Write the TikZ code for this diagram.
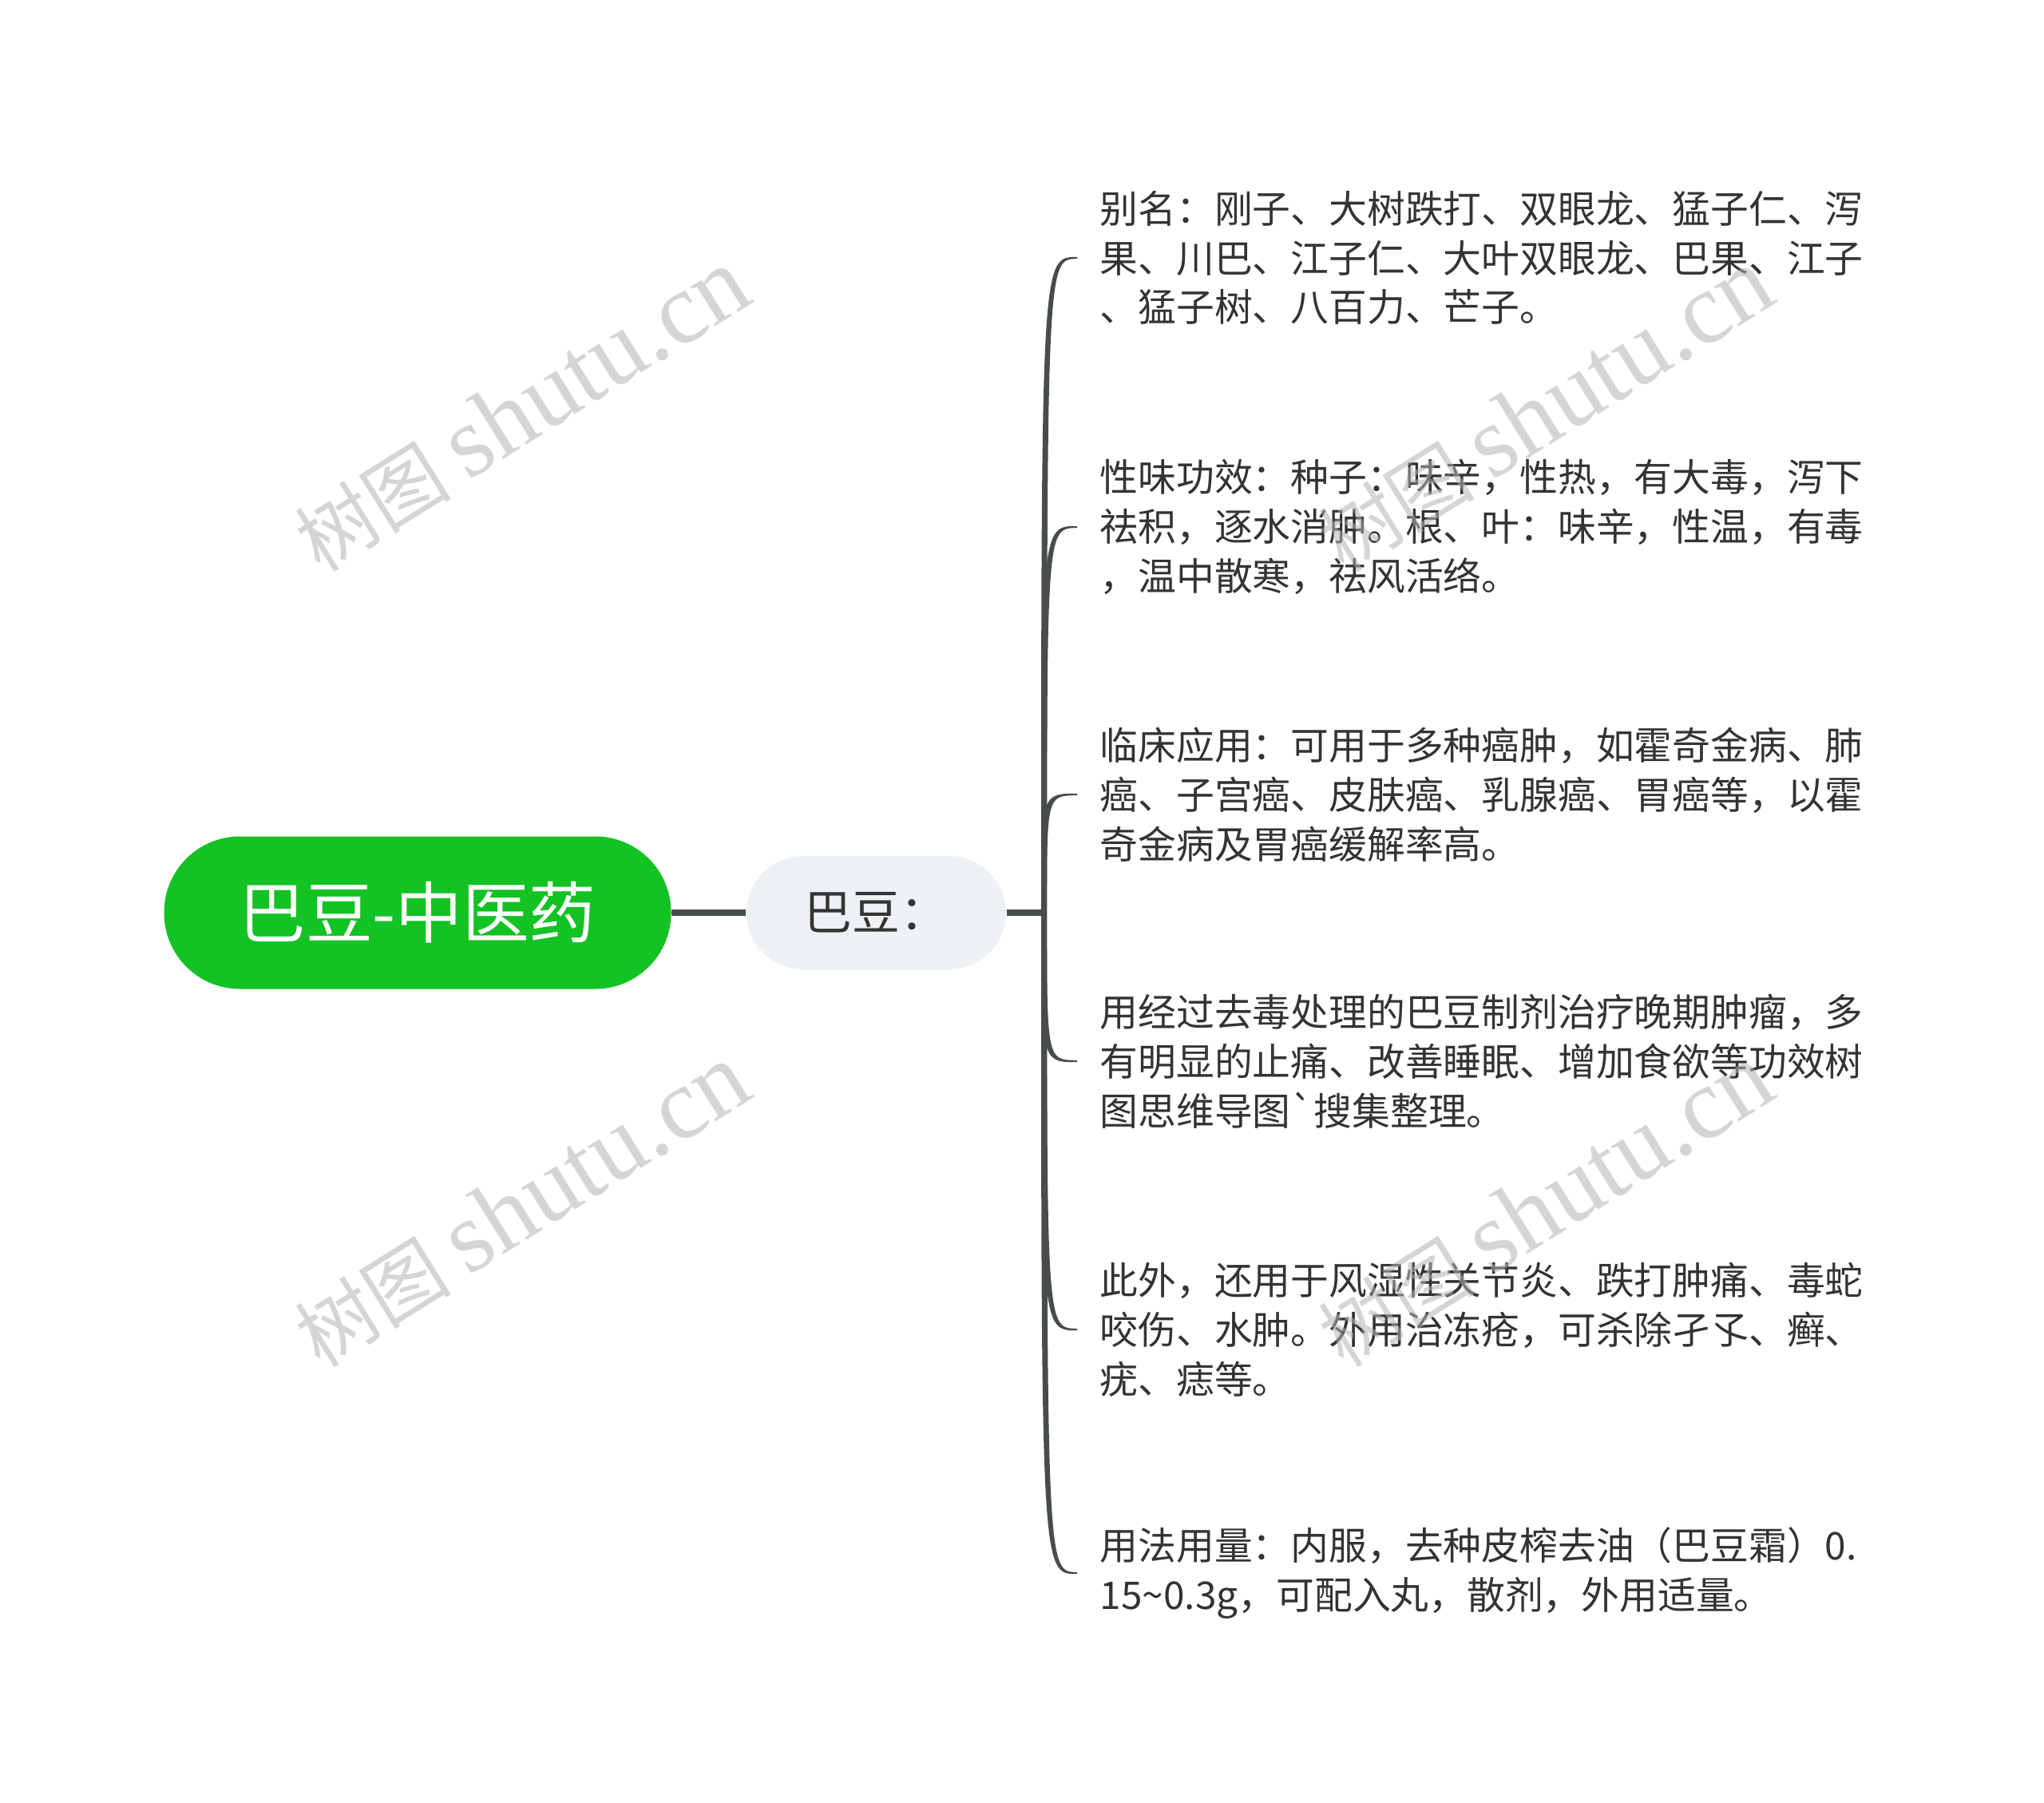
\documentclass[tikz,border=0pt]{standalone}
\usepackage{fontspec}
\setmainfont{Noto Sans CJK SC}
\newfontfamily\wmserif{Liberation Serif}
\usepackage{tikz}
\usetikzlibrary{positioning, calc}
\usepackage{xcolor}
\definecolor{rootgreen}{HTML}{13C223}
\definecolor{subgray}{HTML}{EEF1F4}
\definecolor{linegray}{HTML}{474D48}
\definecolor{leaftext}{HTML}{333333}

\tikzset{
    rootbox/.style={fill=rootgreen, text=white, rounded corners=0.95cm,
        minimum width=6.35cm, minimum height=1.91cm,
        font=\fontsize{23.8pt}{26pt}\selectfont},
    subbox/.style={fill=subgray, text=leaftext, rounded corners=0.71cm,
        minimum width=3.25cm, minimum height=1.42cm,
        font=\fontsize{17pt}{19pt}\selectfont},
    leaf/.style={inner sep=0pt, anchor=west, align=left, text=leaftext,
        font=\fontsize{13.6pt}{17.6pt}\selectfont},
    wmark/.style={rotate=32, text=black!30, text opacity=0.55,
        font=\fontsize{28pt}{30pt}\selectfont}
}

\begin{document}
\begin{tikzpicture}
    \useasboundingbox (0,0) rectangle (25.6,-22.58);
    % main nodes
        \node[rootbox] (root) at (5.23,-11.43) {巴豆-中医药};
        \node[subbox,
            right=0.93cm of root
            ] (sub) {巴豆：};
        \coordinate[right=0.47cm of sub] (hub);
    % branch ends
        \coordinate (e1) at (13.49,-3.23);
        \coordinate (e2) at (13.49,-6.60);
        \coordinate (e3) at (13.49,-9.95);
        \coordinate (e4) at (13.49,-13.29);
        \coordinate (e5) at (13.49,-16.65);
        \coordinate (e6) at (13.49,-19.70);
    % the leaves
        \node[leaf,
            right=0.28cm of e1
            ] (l1) {别名：刚子、大树跌打、双眼龙、猛子仁、泻\\果、川巴、江子仁、大叶双眼龙、巴果、江子\\、猛子树、八百力、芒子。};
        \node[leaf,
            right=0.28cm of e2
            ] (l2) {性味功效：种子：味辛，性热，有大毒，泻下\\祛积，逐水消肿。根、叶：味辛，性温，有毒\\，温中散寒，祛风活络。};
        \node[leaf,
            right=0.28cm of e3
            ] (l3) {临床应用：可用于多种癌肿，如霍奇金病、肺\\癌、子宫癌、皮肤癌、乳腺癌、胃癌等，以霍\\奇金病及胃癌缓解率高。};
        \node[leaf,
            right=0.28cm of e4
            ] (l4) {用经过去毒处理的巴豆制剂治疗晚期肿瘤，多\\有明显的止痛、改善睡眠、增加食欲等功效树\\图思维导图\textasciigrave 搜集整理。};
        \node[leaf,
            right=0.28cm of e5
            ] (l5) {此外，还用于风湿性关节炎、跌打肿痛、毒蛇\\咬伤、水肿。外用治冻疮，可杀除孑孓、癣、\\疣、痣等。};
        \node[leaf,
            right=0.28cm of e6
            ] (l6) {用法用量：内服，去种皮榨去油（巴豆霜）0.\\15\textasciitilde 0.3g，可配入丸，散剂，外用适量。};

       \draw[draw=linegray, line width=2pt]
            (root) edge (sub)
            (sub) edge (hub);
       % tapered branches, \s = 1 up, -1 down
       \foreach \e/\s in {e1/1,e2/1,e3/1,e4/-1,e5/-1,e6/-1}
            \fill[linegray] ($(hub)+(-0.036,0)$)
                .. controls ($(hub |- \e)+(-0.036,0.012*\s)$) .. ($(\e)+(0,0.012*\s)$)
                -- ($(\e)+(0,-0.012*\s)$)
                .. controls ($(hub |- \e)+(0.036,-0.012*\s)$) .. ($(hub)+(0.036,0)$)
                -- cycle;

    % watermarks
        \node[wmark] (wm1) at (6.53,-5.14) {树图 {\wmserif\fontsize{36pt}{38pt}\selectfont shutu.cn}};
        \node[wmark] (wm2) at (19.35,-5.14) {树图 {\wmserif\fontsize{36pt}{38pt}\selectfont shutu.cn}};
        \node[wmark] (wm3) at (6.53,-15.10) {树图 {\wmserif\fontsize{36pt}{38pt}\selectfont shutu.cn}};
        \node[wmark] (wm4) at (19.35,-15.10) {树图 {\wmserif\fontsize{36pt}{38pt}\selectfont shutu.cn}};
\end{tikzpicture}
\end{document}
